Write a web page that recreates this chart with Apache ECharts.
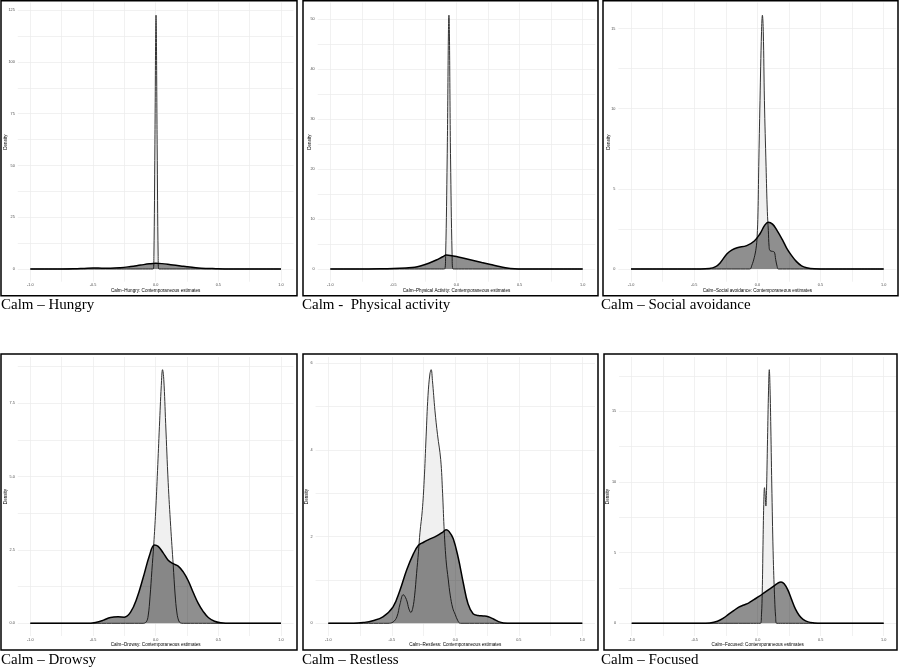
<!DOCTYPE html>
<html>
<head>
<meta charset="utf-8">
<title>Calm – contemporaneous estimates</title>
<script src="https://cdn.jsdelivr.net/npm/echarts@6/dist/echarts.min.js"></script>
<style>
  html, body { margin: 0; padding: 0; background: #fff; }
  #chart { width: 900px; height: 668px; }
</style>
</head>
<body>
<div id="chart"></div>
<script>
// density curves, [estimate, density]
// "light" = narrow distribution, "dark" = broad distribution
const hungryLight = [[-1, 0], [-0.02, 0], [-0.014, 6], [-0.006, 60], [0.003, 122.6], [0.012, 60], [0.02, 6], [0.026, 0], [1, 0]]
const hungryDark = [[-1, 0], [-0.75, 0], [-0.65, 0.08], [-0.57, 0.3], [-0.5, 0.5], [-0.43, 0.4], [-0.36, 0.32], [-0.28, 0.6], [-0.2, 1.2], [-0.12, 1.9], [-0.05, 2.5], [0, 2.75], [0.05, 2.6], [0.12, 2.1], [0.2, 1.5], [0.25, 1.1], [0.32, 0.65], [0.4, 0.3], [0.48, 0.15], [0.55, 0.05], [0.65, 0], [1, 0]]

const physicalLight = [[-1, 0], [-0.095, 0], [-0.086, 3], [-0.074, 22], [-0.06, 50.8], [-0.047, 22], [-0.035, 3], [-0.027, 0], [1, 0]]
const physicalDark = [[-1, 0], [-0.7, 0], [-0.6, 0.03], [-0.5, 0.1], [-0.4, 0.22], [-0.33, 0.35], [-0.28, 0.65], [-0.22, 1.15], [-0.16, 1.8], [-0.11, 2.45], [-0.08, 2.78], [-0.05, 2.72], [0, 2.5], [0.05, 2.2], [0.1, 1.9], [0.15, 1.6], [0.2, 1.3], [0.27, 0.9], [0.34, 0.5], [0.4, 0.22], [0.46, 0.07], [0.52, 0.01], [0.6, 0], [1, 0]]

const socialLight = [[-1, 0], [-0.06, 0], [-0.045, 0.2], [-0.025, 0.7], [-0.01, 1.3], [-0.002, 2.0], [0.005, 3.5], [0.011, 6.4], [0.021, 10.5], [0.033, 14.8], [0.04, 15.83], [0.047, 14.8], [0.056, 10.5], [0.069, 6.4], [0.079, 3.6], [0.087, 2.4], [0.093, 1.4], [0.1, 1.15], [0.12, 1.1], [0.135, 1.05], [0.145, 0.6], [0.157, 0.15], [0.167, 0], [1, 0]]
const socialDark = [[-1, 0], [-0.45, 0], [-0.38, 0.03], [-0.33, 0.15], [-0.295, 0.38], [-0.24, 0.95], [-0.2, 1.2], [-0.16, 1.33], [-0.084, 1.46], [-0.024, 1.75], [0.021, 2.2], [0.06, 2.75], [0.087, 2.92], [0.12, 2.8], [0.153, 2.44], [0.2, 1.8], [0.233, 1.29], [0.27, 0.85], [0.31, 0.46], [0.35, 0.2], [0.39, 0.08], [0.45, 0.01], [0.5, 0], [1, 0]]

const drowsyLight = [[-1, 0], [-0.1, 0], [-0.075, 0.05], [-0.06, 0.25], [-0.045, 0.9], [-0.03, 1.8], [-0.015, 2.7], [0, 3.8], [0.015, 5.2], [0.03, 6.7], [0.045, 8.1], [0.055, 8.64], [0.065, 8.3], [0.08, 6.8], [0.1, 4.8], [0.12, 3.3], [0.14, 2.0], [0.155, 1.0], [0.17, 0.35], [0.185, 0.08], [0.2, 0.01], [0.22, 0], [1, 0]]
const drowsyDark = [[-1, 0], [-0.55, 0], [-0.48, 0.03], [-0.42, 0.1], [-0.36, 0.2], [-0.3, 0.22], [-0.25, 0.21], [-0.2, 0.38], [-0.15, 0.85], [-0.1, 1.55], [-0.05, 2.3], [-0.01, 2.67], [0.02, 2.62], [0.06, 2.4], [0.1, 2.15], [0.14, 2.03], [0.18, 1.95], [0.22, 1.75], [0.26, 1.45], [0.3, 1.05], [0.34, 0.68], [0.38, 0.4], [0.42, 0.2], [0.47, 0.07], [0.52, 0.02], [0.6, 0], [1, 0]]

const restlessLight = [[-1, 0], [-0.53, 0], [-0.49, 0.03], [-0.46, 0.15], [-0.435, 0.45], [-0.41, 0.66], [-0.385, 0.55], [-0.365, 0.33], [-0.35, 0.25], [-0.335, 0.35], [-0.32, 0.65], [-0.305, 1.15], [-0.29, 1.65], [-0.278, 2.1], [-0.26, 2.6], [-0.245, 3.3], [-0.23, 4.3], [-0.215, 5.25], [-0.2, 5.75], [-0.19, 5.85], [-0.18, 5.6], [-0.16, 4.9], [-0.14, 4.35], [-0.115, 3.78], [-0.1, 3.0], [-0.089, 2.24], [-0.073, 1.47], [-0.055, 1.0], [-0.04, 0.65], [-0.02, 0.35], [0, 0.2], [0.02, 0.06], [0.04, 0], [1, 0]]
const restlessDark = [[-1, 0], [-0.8, 0], [-0.72, 0.02], [-0.65, 0.06], [-0.57, 0.15], [-0.49, 0.38], [-0.435, 0.77], [-0.383, 1.23], [-0.33, 1.6], [-0.29, 1.8], [-0.25, 1.87], [-0.21, 1.93], [-0.15, 2.01], [-0.1, 2.1], [-0.073, 2.16], [-0.05, 2.12], [-0.016, 1.95], [0.024, 1.5], [0.063, 0.93], [0.1, 0.45], [0.14, 0.22], [0.18, 0.18], [0.22, 0.17], [0.26, 0.15], [0.3, 0.1], [0.34, 0.04], [0.38, 0.01], [0.45, 0], [1, 0]]

const focusedLight = [[-1, 0], [0.022, 0], [0.03, 0.6], [0.036, 2.2], [0.042, 5.5], [0.048, 8.4], [0.054, 9.6], [0.06, 9.0], [0.065, 8.3], [0.07, 9.4], [0.078, 13], [0.086, 16.5], [0.092, 17.95], [0.098, 16.6], [0.104, 13.9], [0.113, 9.2], [0.124, 4.5], [0.135, 1.66], [0.142, 0.5], [0.15, 0], [1, 0]]
const focusedDark = [[-1, 0], [-0.45, 0], [-0.38, 0.03], [-0.32, 0.15], [-0.27, 0.38], [-0.23, 0.65], [-0.19, 0.9], [-0.15, 1.15], [-0.11, 1.3], [-0.07, 1.45], [-0.03, 1.68], [0.01, 1.9], [0.05, 2.15], [0.09, 2.4], [0.13, 2.65], [0.16, 2.85], [0.185, 2.93], [0.21, 2.8], [0.24, 2.35], [0.27, 1.66], [0.3, 1.0], [0.33, 0.55], [0.36, 0.28], [0.4, 0.1], [0.45, 0.03], [0.5, 0], [1, 0]]

const lightSeries = [hungryLight, physicalLight, socialLight, drowsyLight, restlessLight, focusedLight]
const darkSeries = [hungryDark, physicalDark, socialDark, drowsyDark, restlessDark, focusedDark]

const captions = ['Calm – Hungry', 'Calm -  Physical activity', 'Calm – Social avoidance', 'Calm – Drowsy', 'Calm – Restless', 'Calm – Focused']
const axisTitles = [
  'Calm–Hungry: Contemporaneous estimates',
  'Calm–Physical Activity: Contemporaneous estimates',
  'Calm–Social avoidance: Contemporaneous estimates',
  'Calm–Drowsy: Contemporaneous estimates',
  'Calm–Restless: Contemporaneous estimates',
  'Calm–Focused: Contemporaneous estimates'
]

// tick labels and grid lines
const xTicks = [-1, -0.5, 0, 0.5, 1]
const xMinor = [-0.75, -0.25, 0.25, 0.75]
const yTicks = [[0, 25, 50, 75, 100, 125], [0, 10, 20, 30, 40, 50], [0, 5, 10, 15], [0, 2.5, 5, 7.5], [0, 2, 4, 6], [0, 5, 10, 15]]
const yMinor = [[12.5, 37.5, 62.5, 87.5, 112.5], [5, 15, 25, 35, 45], [2.5, 7.5, 12.5], [1.25, 3.75, 6.25, 8.75], [1, 3, 5], [2.5, 7.5, 12.5, 17.5]]
const yDecimals = [0, 0, 0, 1, 0, 0]

// layout in px: frame box, plotting panel, caption anchor, y-title gap
const layout = [
  { box: [1, 0.75, 296, 295], grid: [17.8, 2.5, 275.7, 279.2], cap: [1, 305], yGap: 9.2 },
  { box: [303, 0.75, 295, 295], grid: [317.7, 2.5, 277.6, 279.2], cap: [302, 305], yGap: 5.4 },
  { box: [603, 0.75, 295, 295], grid: [618.4, 2.5, 277.9, 279.2], cap: [601, 305], yGap: 6.7 },
  { box: [1, 354, 296, 296], grid: [17.8, 357, 275.7, 279], cap: [1, 660.5], yGap: 9.5 },
  { box: [303, 354, 295, 296], grid: [315.6, 357, 279.4, 279], cap: [302, 660.5], yGap: 6 },
  { box: [604, 354, 293, 296], grid: [619.1, 357, 277.2, 279], cap: [601, 660.5], yGap: 8.5 }
]

const SANS = "'Liberation Sans', Arial, sans-serif"
const SERIF = "'Liberation Serif', 'Times New Roman', serif"

const chart = echarts.init(document.getElementById('chart'), null, { renderer: 'canvas' })

const grids = []
const xAxes = []
const yAxes = []
const series = []
const graphics = []

layout.forEach(function (p, i) {
  const peak = Math.max.apply(null, lightSeries[i].concat(darkSeries[i]).map(d => d[1]))
  grids.push({
    left: p.grid[0], top: p.grid[1], width: p.grid[2], height: p.grid[3],
    containLabel: false, outerBoundsMode: 'none'
  })
  xAxes.push({
    type: 'value', gridIndex: i, min: -1.1, max: 1.1,
    axisLine: { show: false },
    axisTick: { show: false, customValues: xTicks.concat(xMinor) },
    axisLabel: {
      customValues: xTicks, margin: 1.5, fontSize: 3.8, color: '#4d4d4d', fontFamily: SANS,
      formatter: v => v.toFixed(1)
    },
    splitLine: { show: true, lineStyle: { color: '#ebebeb', width: 0.7 } },
    name: axisTitles[i], nameLocation: 'middle', nameGap: 6,
    nameTextStyle: { fontSize: 4.6, color: '#000', fontFamily: SANS }
  })
  yAxes.push({
    type: 'value', gridIndex: i, min: -0.05 * peak, max: 1.05 * peak,
    axisLine: { show: false },
    axisTick: { show: false, customValues: yTicks[i].concat(yMinor[i]) },
    axisLabel: {
      customValues: yTicks[i], margin: 3, fontSize: 3.8, color: '#4d4d4d', fontFamily: SANS,
      formatter: v => v.toFixed(yDecimals[i])
    },
    splitLine: { show: true, lineStyle: { color: '#ebebeb', width: 0.7 } },
    name: 'Density', nameLocation: 'middle', nameRotate: 90, nameGap: p.yGap, nameMoveOverlap: false,
    nameTextStyle: { fontSize: 4.6, color: '#000', fontFamily: SANS }
  })
  series.push({
    type: 'line', xAxisIndex: i, yAxisIndex: i, data: lightSeries[i],
    symbol: 'none', smooth: 0.4, silent: true, z: 2,
    lineStyle: { color: '#333', width: 1 },
    areaStyle: { color: '#f0f0f0', opacity: 1 }
  })
  series.push({
    type: 'line', xAxisIndex: i, yAxisIndex: i, data: darkSeries[i],
    symbol: 'none', smooth: 0.4, silent: true, z: 3,
    lineStyle: { color: '#000', width: 1.5 },
    areaStyle: { color: 'rgba(0,0,0,0.44)', opacity: 1 }
  })
  graphics.push({
    type: 'rect', silent: true, z: 10,
    shape: { x: p.box[0], y: p.box[1], width: p.box[2], height: p.box[3] },
    style: { fill: 'none', stroke: '#000', lineWidth: 1.5 }
  })
  graphics.push({
    type: 'text', silent: true, z: 10, x: p.cap[0], y: p.cap[1],
    style: { text: captions[i], font: '15px ' + SERIF, fill: '#000', verticalAlign: 'middle' }
  })
})

chart.setOption({
  animation: false,
  backgroundColor: '#fff',
  grid: grids,
  xAxis: xAxes,
  yAxis: yAxes,
  series: series,
  graphic: graphics
})
</script>
</body>
</html>
